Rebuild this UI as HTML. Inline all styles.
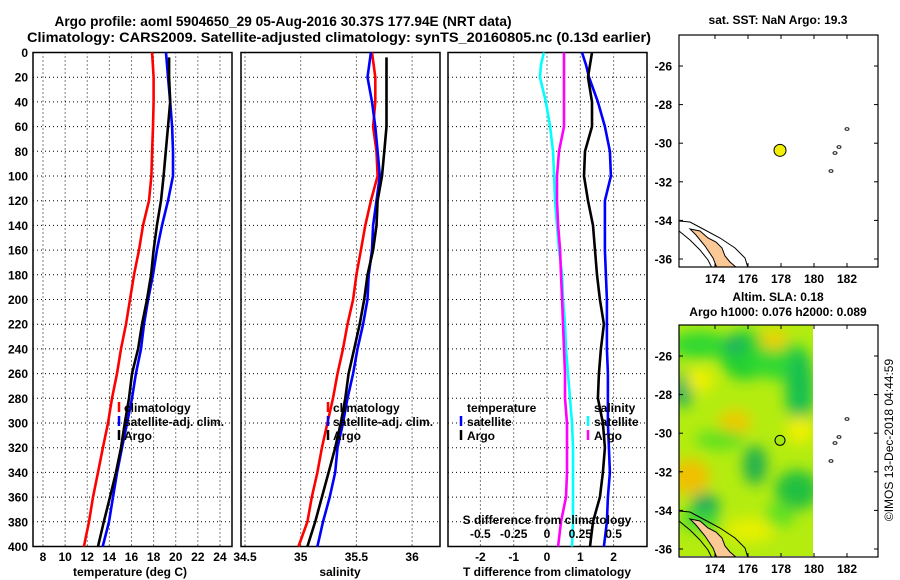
<!DOCTYPE html>
<html><head><meta charset="utf-8"><style>
html,body{margin:0;padding:0;background:#fff;}
svg{display:block;font-family:"Liberation Sans",sans-serif;font-weight:bold;}
</style></head><body>
<svg id="fig" width="900" height="580" viewBox="0 0 900 580" xmlns="http://www.w3.org/2000/svg">
<text x="283" y="26" font-size="14" text-anchor="middle" textLength="457" lengthAdjust="spacingAndGlyphs">Argo profile: aoml 5904650_29 05-Aug-2016 30.37S 177.94E (NRT data)</text>
<text x="339" y="42" font-size="14" text-anchor="middle" textLength="624" lengthAdjust="spacingAndGlyphs">Climatology: CARS2009. Satellite-adjusted climatology: synTS_20160805.nc (0.13d earlier)</text>
<g id="p1"></g>
<g id="p2"></g>
<g id="p3"></g>
<g id="m1"></g>
<g id="m2"></g>
<text transform="translate(893,440) rotate(-90)" font-size="12" font-weight="normal" text-anchor="middle">©IMOS 13-Dec-2018 04:44:59</text>
</svg>
<script>
// ---- data ----
const depths = [0,20,40,60,80,100,120,140,160,180,200,220,240,260,280,300,320,340,360,380,400];
const argoDepths = [4,20,40,60,80,100,120,140,160,180,200,220,240,260,280,300,320,340,360,380,400];
const tempClim = [17.86,18.0,18.0,17.95,17.86,17.8,17.58,17.04,16.68,16.23,15.87,15.5,15.05,14.69,14.24,13.88,13.42,12.97,12.52,12.16,11.7];
const tempSat = [19.12,19.3,19.5,19.67,19.75,19.75,19.3,18.76,18.3,17.95,17.5,17.13,16.86,16.4,16.05,15.6,15.14,14.7,14.33,13.97,13.4];
const tempArgo = [19.4,19.4,19.5,19.3,19.1,18.9,18.67,18.3,18.0,17.77,17.4,16.95,16.6,16.05,15.78,15.4,15.05,14.6,14.06,13.5,12.97];
const salClim = [35.64,35.67,35.67,35.65,35.68,35.69,35.63,35.58,35.54,35.5,35.47,35.42,35.38,35.33,35.29,35.24,35.19,35.15,35.1,35.06,34.98];
const salSat = [35.63,35.6,35.64,35.67,35.69,35.71,35.68,35.65,35.64,35.61,35.6,35.56,35.51,35.47,35.42,35.38,35.33,35.31,35.26,35.2,35.15];
const salArgo = [35.77,35.77,35.77,35.77,35.75,35.73,35.69,35.68,35.65,35.6,35.57,35.53,35.48,35.43,35.4,35.36,35.31,35.25,35.19,35.13,35.06];
const diffDepths = [0,10,20,40,60,80,100,120,140,160,180,200,220,240,260,280,300,320,340,360,380,400];
const tDiffSat = [1.05,1.17,1.26,1.53,1.74,1.89,1.92,1.74,1.74,1.74,1.77,1.8,1.8,1.8,1.83,1.83,1.83,1.86,1.89,1.83,1.8,1.71];
const tDiffArgo = [1.35,1.29,1.23,1.35,1.35,1.14,1.11,1.23,1.38,1.44,1.5,1.59,1.71,1.62,1.56,1.53,1.68,1.74,1.68,1.59,1.38,1.29];
const sDiffSat = [-0.023,-0.045,-0.053,-0.008,0.023,0.045,0.053,0.06,0.075,0.09,0.113,0.12,0.135,0.143,0.158,0.173,0.188,0.195,0.195,0.195,0.195,0.188];
const sDiffArgo = [0.128,0.128,0.128,0.128,0.128,0.09,0.075,0.075,0.083,0.098,0.105,0.113,0.12,0.128,0.135,0.135,0.15,0.15,0.15,0.143,0.105,0.083];
const depthTicks = [0,20,40,60,80,100,120,140,160,180,200,220,240,260,280,300,320,340,360,380,400];
const tempTicks = [8,10,12,14,16,18,20,22,24];
const salTicks = [34.5,35,35.5,36];
const salTickLabels = ["34.5","35","35.5","36"];
const tDiffTicks = [-2,-1,0,1,2];
const sDiffTicks = [-0.5,-0.25,0,0.25,0.5];
const sDiffTickLabels = ["-0.5","-0.25","0","0.25","0.5"];
const lonTicks = [174,176,178,180,182];
const latTicks = [-26,-28,-30,-32,-34,-36];
const argoLon = 177.94, argoLat = -30.37;

// ---- helpers ----
const NS = "http://www.w3.org/2000/svg";
function mk(tag, attrs, parent){const e=document.createElementNS(NS,tag);for(const k in attrs)e.setAttribute(k,attrs[k]);parent.appendChild(e);return e;}
const TOP=52.5, BOT=546.5;
const yD = d => TOP + d*(BOT-TOP)/400;
const xT = t => 43 + (t-8)*11.06;
const xS = s => 245 + (s-34.5)*111.4;
const xDT = t => 547 + t*33.3;
const xDS = s => 547 + s*133.2;

function panel(g, x0, x1, xticks, xf, labels){
  for (const d of depthTicks){ if(d===0||d===400) continue;
    const l=mk('line',{x1:x0,x2:x1,y1:yD(d),y2:yD(d),stroke:'#000','stroke-width':1,'stroke-dasharray':'1,3'},g);
    
    
  }
  xticks.forEach((t,i)=>{
    const l=mk('line',{x1:xf(t),x2:xf(t),y1:TOP,y2:BOT,stroke:'#000','stroke-width':1,'stroke-dasharray':'1,3'},g);
    
    
    if(labels){
      const tx=mk('text',{x:xf(t),y:561,'font-size':12,'text-anchor':'middle'},g);
      tx.textContent=labels[i];
      
      
    }
  });
  const r=mk('rect',{x:x0,y:TOP,width:x1-x0,height:BOT-TOP,fill:'none',stroke:'#000','stroke-width':1.5},g);
  
  
}
function line(g, xs, ds, xf, color, name){
  const pts = xs.map((v,i)=>xf(v).toFixed(1)+','+yD(ds[i]).toFixed(1)).join(' ');
  const p=mk('polyline',{points:pts,fill:'none',stroke:color,'stroke-width':2.6,'stroke-linejoin':'miter'},g);
  
  
}
function txt(g,x,y,s,size,anchor,name,extra){
  const t=mk('text',Object.assign({x:x,y:y,'font-size':size,'text-anchor':anchor||'start'},extra||{}),g);
  t.textContent=s;
  
  
  return t;
}
function legMark(g,x,y,color){
  const l=mk('line',{x1:x,x2:x,y1:y-10,y2:y,stroke:color,'stroke-width':2.5},g);
  
  
}

// ---- panel 1 ----
const p1=document.getElementById('p1');
panel(p1,33,232,tempTicks,xT,tempTicks.map(String));
depthTicks.forEach(d=>{
  const t=txt(p1,28,yD(d)+4.5,String(d),12,'end','y-tick-label');
});
line(p1,tempClim,depths,xT,'#ff0000','temp-climatology-line');
line(p1,tempSat,depths,xT,'#0000ff','temp-satellite-line');
line(p1,tempArgo,argoDepths,xT,'#000000','temp-argo-line');
legMark(p1,119,412,'#ff0000');legMark(p1,119,426,'#0000ff');legMark(p1,119,440,'#000');
txt(p1,124,412,'climatology',12,'start','legend-climatology');
txt(p1,124,426,'satellite-adj. clim.',12,'start','legend-satellite');
txt(p1,124,440,'Argo',12,'start','legend-argo');
txt(p1,130,576,'temperature (deg C)',12,'middle','x-axis-title');

// ---- panel 2 ----
const p2=document.getElementById('p2');
panel(p2,241,440,salTicks,xS,salTickLabels);
line(p2,salClim,depths,xS,'#ff0000','sal-climatology-line');
line(p2,salSat,depths,xS,'#0000ff','sal-satellite-line');
line(p2,salArgo,argoDepths,xS,'#000000','sal-argo-line');
legMark(p2,328,412,'#ff0000');legMark(p2,328,426,'#0000ff');legMark(p2,328,440,'#000');
txt(p2,333,412,'climatology',12,'start','legend-climatology');
txt(p2,333,426,'satellite-adj. clim.',12,'start','legend-satellite');
txt(p2,333,440,'Argo',12,'start','legend-argo');
txt(p2,340,576,'salinity',12,'middle','x-axis-title');

// ---- panel 3 ----
const p3=document.getElementById('p3');
panel(p3,448,647,tDiffTicks,xDT,tDiffTicks.map(String));
line(p3,sDiffSat,diffDepths,xDS,'#00ffff','s-diff-satellite-line');
line(p3,sDiffArgo,diffDepths,xDS,'#ff00ff','s-diff-argo-line');
line(p3,tDiffSat,diffDepths,xDT,'#0000ff','t-diff-satellite-line');
line(p3,tDiffArgo,diffDepths,xDT,'#000000','t-diff-argo-line');
txt(p3,467,412,'temperature',12,'start','legend-temperature-header');
legMark(p3,461,426,'#0000ff');legMark(p3,461,440,'#000');
txt(p3,467,426,'satellite',12,'start','legend-t-satellite');
txt(p3,467,440,'Argo',12,'start','legend-t-argo');
txt(p3,594,412,'salinity',12,'start','legend-salinity-header');
legMark(p3,588,426,'#00ffff');legMark(p3,588,440,'#ff00ff');
txt(p3,594,426,'satellite',12,'start','legend-s-satellite');
txt(p3,594,440,'Argo',12,'start','legend-s-argo');
txt(p3,547,524,'S difference from climatology',12,'middle','s-axis-title');
sDiffTicks.forEach((s,i)=>txt(p3,xDS(s),538,sDiffTickLabels[i],12,'middle','s-tick-label'));
txt(p3,547,576,'T difference from climatology',12,'middle','x-axis-title');

// ---- maps ----
const MX0=679, MX1=878;
const xLon = l => 715 + (l-174)*16.5;
function map(g, top, isSLA){
  const yLat = l => top + 31 + (-26-l)*19.3;
  const H = 232;
  const cid='clip'+top;
  const cp=mk('clipPath',{id:cid},g); mk('rect',{x:MX0,y:top,width:MX1-MX0,height:H},cp);
  const body=mk('g',{'clip-path':'url(#'+cid+')'},g);
  if(isSLA){
    const f=mk('filter',{id:'blur',x:'-50%',y:'-50%',width:'200%',height:'200%'},g);
    mk('feGaussianBlur',{stdDeviation:7},f);
    const cp2=mk('clipPath',{id:'cdata'},g); mk('rect',{x:MX0,y:top,width:813-MX0,height:H-1},cp2);
    const fld=mk('g',{'clip-path':'url(#cdata)'},body);
    
    
    mk('rect',{x:MX0,y:top,width:134,height:H,fill:'#b4ec10'},fld);
    const bl=mk('g',{filter:'url(#blur)'},fld);
    const blobs=[[700,345,30,14,'#30d830'],[745,355,25,25,'#20d030'],[780,360,30,20,'#30d830'],[800,390,14,40,'#18c050'],[683,390,10,18,'#20b060'],
      [735,345,10,8,'#20a868'],[774,340,14,10,'#f0d000'],[700,380,14,12,'#f0f000'],[735,422,16,12,'#f0c800'],[800,430,14,14,'#f0f000'],
      [690,477,20,18,'#f0c000'],[755,465,12,20,'#20b050'],[705,507,14,14,'#18a860'],[797,490,22,20,'#20c040'],[750,530,25,12,'#e8f000'],
      [720,440,25,10,'#60e020'],[700,520,20,10,'#40d830'],[780,515,15,12,'#60e020']];
    blobs.forEach(b=>mk('ellipse',{cx:b[0],cy:b[1],rx:b[2],ry:b[3],fill:b[4]},bl));
  }
  // contours and land
  const off=top-35;
  const c1=mk('polyline',{points:[[679,221],[690,222],[705,230],[720,238],[735,248],[745,258],[748,268]].map(p=>p[0]+','+(p[1]+off)).join(' '),fill:'none',stroke:'#000','stroke-width':1},body);
  
  
  const c2=mk('polyline',{points:[[679,231],[690,240],[700,250],[708,260],[712,268]].map(p=>p[0]+','+(p[1]+off)).join(' '),fill:'none',stroke:'#000','stroke-width':1},body);
  
  
  const land=mk('polygon',{points:[[690,229],[700,231],[708,238],[716,242],[722,248],[725,256],[730,262],[737,268],[717,268],[713,258],[705,246],[696,235]].map(p=>p[0]+','+(p[1]+off)).join(' '),fill:'#fcc896',stroke:'#000','stroke-width':1},body);
  
  
  [[847,129],[839,147],[835,153],[831,171]].forEach(p=>{
    const e=mk('ellipse',{cx:p[0],cy:p[1]+off,rx:2,ry:1.3,fill:'none',stroke:'#000','stroke-width':0.9},body);
    
    
  });
  const fr=mk('rect',{x:MX0,y:top,width:MX1-MX0,height:H,fill:'none',stroke:'#000','stroke-width':1.2},g);
  
  
  lonTicks.forEach(l=>{
    mk('line',{x1:xLon(l),x2:xLon(l),y1:top,y2:top+4,stroke:'#000'},g);
    mk('line',{x1:xLon(l),x2:xLon(l),y1:top+H,y2:top+H-4,stroke:'#000'},g);
    txt(g,xLon(l),top+H+16,String(l),12,'middle','map-lon-label');
  });
  latTicks.forEach(l=>{
    mk('line',{x1:MX0,x2:MX0+4,y1:yLat(l),y2:yLat(l),stroke:'#000'},g);
    mk('line',{x1:MX1,x2:MX1-4,y1:yLat(l),y2:yLat(l),stroke:'#000'},g);
    txt(g,672,yLat(l)+4.5,String(l),12,'end','map-lat-label');
  });
  const c=mk('circle',{cx:xLon(argoLon),cy:yLat(argoLat),r:isSLA?5:6,fill:isSLA?'#a0e810':'#f0f000',stroke:'#000','stroke-width':1},g);
  
  
}
const m1=document.getElementById('m1');
txt(m1,778,24,'sat. SST: NaN Argo: 19.3',12,'middle','sst-map-title');
map(m1,35,false);
const m2=document.getElementById('m2');
txt(m2,778,301,'Altim. SLA: 0.18',12,'middle','sla-map-title');
txt(m2,778,316,'Argo h1000: 0.076 h2000: 0.089',12,'middle','sla-map-subtitle');
map(m2,325,true);
</script>
</body></html>
